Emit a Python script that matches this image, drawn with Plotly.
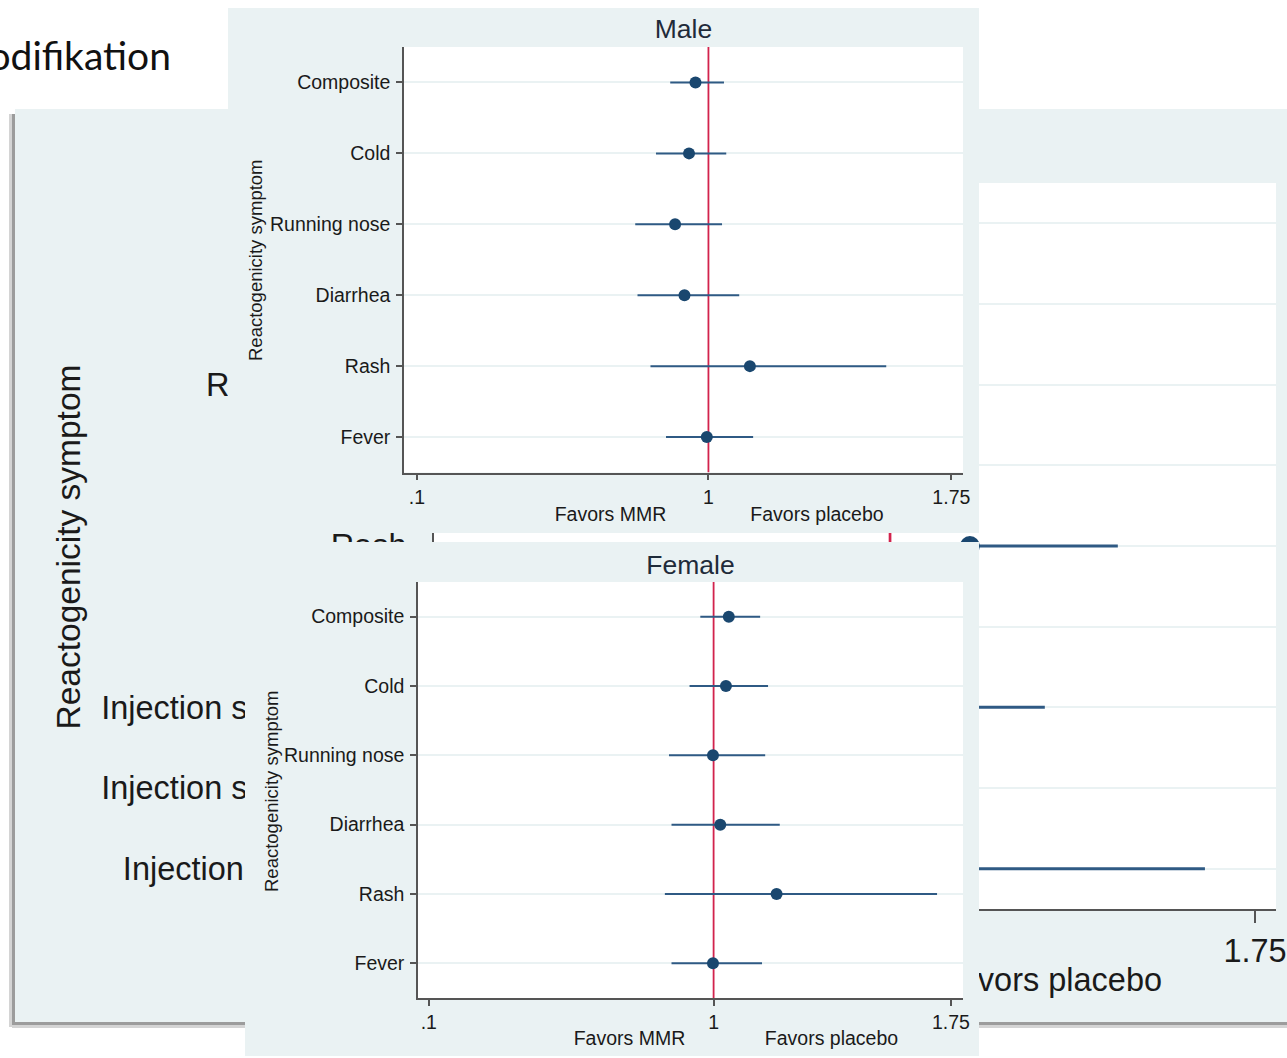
import plotly.graph_objects as go

W, H = 1287, 1058

# ---------------- data ----------------
symptoms = ["Composite", "Cold", "Running nose", "Diarrhea", "Rash", "Fever"]

male_est = [0.960, 0.940, 0.897, 0.926, 1.128, 0.995]
male_lo = [0.882, 0.838, 0.774, 0.781, 0.821, 0.869]
male_hi = [1.048, 1.055, 1.042, 1.095, 1.549, 1.138]

female_est = [1.048, 1.039, 0.998, 1.021, 1.199, 0.998]
female_lo = [0.958, 0.924, 0.859, 0.867, 0.846, 0.867]
female_hi = [1.147, 1.172, 1.163, 1.209, 1.706, 1.153]

overall_symptoms = ["Composite", "Cold", "Running nose", "Diarrhea", "Rash", "Fever",
                    "Injection site redness", "Injection site swelling", "Injection site itching"]
overall_est = [1.00, 0.99, 0.95, 0.97, 1.164, 1.00, 1.05, 0.95, 1.10]
overall_lo = [0.93, 0.90, 0.85, 0.86, 0.92, 0.90, 0.84, 0.77, 0.74]
overall_hi = [1.08, 1.09, 1.06, 1.10, 1.468, 1.11, 1.318, 1.17, 1.647]

x_tickvals = [0.1, 1, 1.75]
x_ticktext = [".1", "1", "1.75"]
REF_VALUE = 1

# ---------------- style ----------------
FONT = "Liberation Sans, Arial, sans-serif"
PANEL = "#eaf2f3"
NAVY = "#1a476f"
CI_COL = "#2f5a84"
RED = "#d2234d"
AXIS = "#555555"
TXT = "#1a1a1a"
TITLE_COL = "#1f2b3a"


def dx(a, b):
    return [a / W, b / W]


def dy(top, bottom):
    return [1 - bottom / H, 1 - top / H]


fig = go.Figure()


def forest(xa, ya, est, lo, hi, msize, lw):
    n = len(est)
    fig.add_trace(go.Scatter(x=[REF_VALUE, REF_VALUE], y=[-0.5, n - 0.5], mode="lines",
                             line=dict(color=RED, width=lw * 0.9), xaxis=xa, yaxis=ya,
                             hoverinfo="skip", showlegend=False))
    fig.add_trace(go.Scatter(
        x=est, y=list(range(n)), mode="markers",
        marker=dict(color=NAVY, size=msize),
        error_x=dict(type="data", symmetric=False,
                     array=[h - e for h, e in zip(hi, est)],
                     arrayminus=[e - l for e, l in zip(est, lo)],
                     color=CI_COL, thickness=lw, width=0),
        xaxis=xa, yaxis=ya, showlegend=False))


def texts(xa, ya, xs, ys, labels, size, color=TXT):
    fig.add_trace(go.Scatter(x=xs, y=ys, text=labels, mode="text",
                             textfont=dict(family=FONT, size=size, color=color),
                             textposition="middle center", cliponaxis=False,
                             xaxis=xa, yaxis=ya, hoverinfo="skip", showlegend=False))


# 1) background slide panel (pixel coordinates)
texts("x", "y", [741, 1051], [983, 983], ["Favors MMR", "Favors placebo"], 32.5)
# 2) background forest plot
forest("x2", "y2", overall_est, overall_lo, overall_hi, 20, 3)
# 3) male panel
texts("x3", "y3", [683.5], [31], ["Male"], 26.5, TITLE_COL)
texts("x3", "y3", [610.5, 817], [516, 516], ["Favors MMR", "Favors placebo"], 19.5)
# 4) male plot
forest("x4", "y4", male_est, male_lo, male_hi, 12, 2)
# 5) female panel
texts("x5", "y5", [690.5], [567], ["Female"], 26.5, TITLE_COL)
texts("x5", "y5", [629.5, 831.5], [1040, 1040], ["Favors MMR", "Favors placebo"], 19.5)
# 6) female plot
forest("x6", "y6", female_est, female_lo, female_hi, 12, 2)

hidden = dict(visible=False, automargin=False)


def panel_axes(xl, xr, yt, yb, xanchor, yanchor):
    xa = dict(domain=dx(xl, xr), range=[xl, xr], anchor=yanchor, **hidden)
    ya = dict(domain=dy(yt, yb), range=[yb, yt], anchor=xanchor, **hidden)
    return xa, ya


def plot_axes(xl, xr, yt, yb, xrange, labels, xanchor, yanchor, fs, tl_x, tl_y, so_x, so_y, lw):
    n = len(labels)
    xa = dict(domain=dx(xl, xr), range=xrange, anchor=yanchor, automargin=False,
              tickmode="array", tickvals=x_tickvals, ticktext=x_ticktext,
              ticks="outside", ticklen=tl_x, tickwidth=lw, tickcolor=AXIS,
              showline=True, linecolor=AXIS, linewidth=lw, showgrid=False, zeroline=False,
              tickfont=dict(family=FONT, size=fs, color=TXT), ticklabelstandoff=so_x)
    ya = dict(domain=dy(yt, yb), range=[n - 0.5, -0.5], anchor=xanchor, automargin=False,
              tickmode="array", tickvals=list(range(n)), ticktext=labels,
              ticks="outside", ticklen=tl_y, tickwidth=lw, tickcolor=AXIS,
              showline=True, linecolor=AXIS, linewidth=lw,
              showgrid=True, gridcolor=PANEL, gridwidth=2, zeroline=False,
              tickfont=dict(family=FONT, size=fs, color=TXT), ticklabelstandoff=so_y)
    return xa, ya


x1, y1 = panel_axes(15, 1287, 109, 1022, "x", "y")
x2, y2 = plot_axes(434, 1276, 183, 909, [0.063, 1.793], overall_symptoms, "x2", "y2", 32.5, 12, 10, 0, 9, 2)
x3, y3 = panel_axes(228, 979, 8, 533, "x3", "y3")
x4, y4 = plot_axes(404, 963, 47, 472.5, [0.06, 1.786], symptoms, "x4", "y4", 19.5, 6, 6, 0, 2, 1.5)
x5, y5 = panel_axes(245, 979, 542, 1056, "x5", "y5")
x6, y6 = plot_axes(418, 963, 582, 998, [0.066, 1.788], symptoms, "x6", "y6", 19.5, 6, 6, 0, 2, 1.5)

shapes = []
for xr, yr in [("x2", "y2"), ("x4", "y4"), ("x6", "y6")]:
    shapes.append(dict(type="rect", xref=xr, yref=yr, x0=-5, x1=5, y0=-5, y1=20,
                       fillcolor="white", line=dict(width=0), layer="below"))
# drop shadow of the background slide picture
for (a, b, c) in [(12, 15, "#9c9c9c"), (9, 12, "#d4d4d4")]:
    shapes.append(dict(type="rect", xref="paper", yref="paper", x0=a / W, x1=b / W,
                       y0=1 - 1027 / H, y1=1 - 114 / H, fillcolor=c, line=dict(width=0), layer="below"))
for (a, b, c) in [(1022, 1025, "#9c9c9c"), (1025, 1028, "#d4d4d4")]:
    shapes.append(dict(type="rect", xref="paper", yref="paper", x0=12 / W, x1=1,
                       y0=1 - b / H, y1=1 - a / H, fillcolor=c, line=dict(width=0), layer="below"))

annotations = [
    dict(text="Effektmodifikation", x=173 / W, y=1 - 55 / H, xref="paper", yref="paper",
         xanchor="right", yanchor="middle", showarrow=False,
         font=dict(family="Lato, Open Sans, sans-serif", size=39, color="#111111")),
    dict(text="Reactogenicity symptom", x=68 / W, y=1 - 547.5 / H, xref="paper", yref="paper",
         textangle=-90, xanchor="center", yanchor="middle", showarrow=False,
         font=dict(family=FONT, size=33.5, color=TXT)),
    dict(text="Reactogenicity symptom", x=255 / W, y=1 - 260 / H, xref="paper", yref="paper",
         textangle=-90, xanchor="center", yanchor="middle", showarrow=False,
         font=dict(family=FONT, size=18.5, color=TXT)),
    dict(text="Reactogenicity symptom", x=271 / W, y=1 - 791 / H, xref="paper", yref="paper",
         textangle=-90, xanchor="center", yanchor="middle", showarrow=False,
         font=dict(family=FONT, size=18.5, color=TXT)),
]

fig.update_layout(
    width=W, height=H, margin=dict(l=0, r=0, t=0, b=0, pad=0), autosize=False,
    paper_bgcolor="white", plot_bgcolor=PANEL, showlegend=False,
    font=dict(family=FONT, color=TXT),
    xaxis=x1, yaxis=y1, xaxis2=x2, yaxis2=y2, xaxis3=x3, yaxis3=y3,
    xaxis4=x4, yaxis4=y4, xaxis5=x5, yaxis5=y5, xaxis6=x6, yaxis6=y6,
    shapes=shapes, annotations=annotations,
)

fig.write_html("out.html")
